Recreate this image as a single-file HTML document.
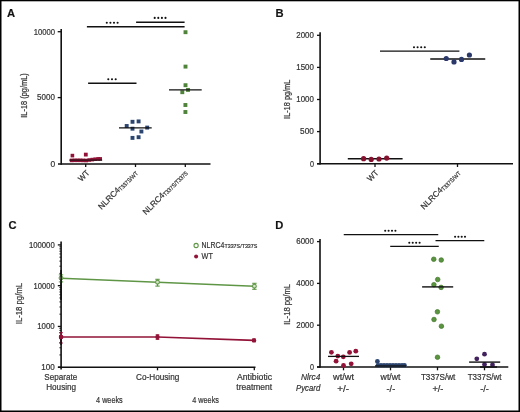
<!DOCTYPE html>
<html><head><meta charset="utf-8"><style>
html,body{margin:0;padding:0;background:#fff;}
body{width:520px;height:412px;overflow:hidden;}
svg{display:block;will-change:transform;font-family:"Liberation Sans", sans-serif;}
text{stroke:#333;stroke-width:0.2px;}
</style></head><body>
<svg width="520" height="412" viewBox="0 0 520 412">
<rect x="0" y="0" width="520" height="412" fill="#fff"/>
<text x="7.0" y="16.6" font-size="11.2" text-anchor="start" fill="#111" font-weight="bold">A</text>
<line x1="61.2" y1="29" x2="61.2" y2="164.7" stroke="#111111" stroke-width="1.6"/>
<line x1="58" y1="164" x2="210.5" y2="164" stroke="#111111" stroke-width="1.5"/>
<line x1="57.7" y1="31.7" x2="61.2" y2="31.7" stroke="#111111" stroke-width="1.3"/>
<text x="55.099999999999994" y="34.5" font-size="8.2" text-anchor="end" fill="#333333" textLength="21.4" lengthAdjust="spacingAndGlyphs" >10000</text>
<line x1="57.7" y1="97.6" x2="61.2" y2="97.6" stroke="#111111" stroke-width="1.3"/>
<text x="54.9" y="100.4" font-size="8.2" text-anchor="end" fill="#333333" textLength="17.8" lengthAdjust="spacingAndGlyphs" >5000</text>
<text x="55.099999999999994" y="166.7" font-size="8.2" text-anchor="end" fill="#333333" textLength="4.7" lengthAdjust="spacingAndGlyphs" >0</text>
<line x1="85.7" y1="164" x2="85.7" y2="167" stroke="#111111" stroke-width="1.3"/>
<line x1="135.5" y1="164" x2="135.5" y2="167" stroke="#111111" stroke-width="1.3"/>
<line x1="185.3" y1="164" x2="185.3" y2="167" stroke="#111111" stroke-width="1.3"/>
<text transform="translate(26.6,95.5) rotate(-90)" font-size="8.6" text-anchor="middle" fill="#333333" textLength="44.40000000000001" lengthAdjust="spacingAndGlyphs">IL-18 (pg/mL)</text>
<text transform="translate(90,173.5) rotate(-45)" font-size="8.3" text-anchor="end" fill="#333333"><tspan textLength="12" lengthAdjust="spacingAndGlyphs">WT</tspan></text>
<text transform="translate(138.1,173.3) rotate(-45)" font-size="8.3" text-anchor="end" fill="#333333"><tspan>NLRC4</tspan><tspan font-size="5.9" dy="0.6" textLength="24.7" lengthAdjust="spacingAndGlyphs">T337S/WT</tspan></text>
<text transform="translate(187.9,173.3) rotate(-45)" font-size="8.3" text-anchor="end" fill="#333333"><tspan>NLRC4</tspan><tspan font-size="5.9" dy="0.6" textLength="32.2" lengthAdjust="spacingAndGlyphs">T337S/T337S</tspan></text>
<rect x="69.80" y="158.60" width="3.6" height="3.6" fill="#921337"/>
<rect x="72.80" y="158.50" width="3.6" height="3.6" fill="#921337"/>
<rect x="75.70" y="158.50" width="3.6" height="3.6" fill="#921337"/>
<rect x="78.60" y="158.50" width="3.6" height="3.6" fill="#921337"/>
<rect x="81.50" y="158.60" width="3.6" height="3.6" fill="#921337"/>
<rect x="84.50" y="158.70" width="3.6" height="3.6" fill="#921337"/>
<rect x="87.50" y="158.20" width="3.6" height="3.6" fill="#921337"/>
<rect x="90.50" y="157.80" width="3.6" height="3.6" fill="#921337"/>
<rect x="93.50" y="157.40" width="3.6" height="3.6" fill="#921337"/>
<rect x="96.40" y="157.10" width="3.6" height="3.6" fill="#921337"/>
<rect x="98.40" y="157.10" width="3.6" height="3.6" fill="#921337"/>
<line x1="69.2" y1="160.1" x2="102.2" y2="160.1" stroke="#111111" stroke-width="1.0"/>
<rect x="70.60" y="153.80" width="3.6" height="3.6" fill="#921337"/>
<rect x="83.90" y="152.70" width="3.8" height="3.8" fill="#921337"/>
<rect x="130.55" y="119.85" width="3.9" height="3.9" fill="#2c4570"/>
<rect x="136.65" y="119.45" width="3.9" height="3.9" fill="#2c4570"/>
<rect x="124.75" y="124.05" width="3.9" height="3.9" fill="#2c4570"/>
<rect x="130.55" y="126.75" width="3.9" height="3.9" fill="#2c4570"/>
<rect x="145.25" y="125.65" width="3.9" height="3.9" fill="#2c4570"/>
<rect x="139.45" y="129.55" width="3.9" height="3.9" fill="#2c4570"/>
<rect x="130.55" y="135.95" width="3.9" height="3.9" fill="#2c4570"/>
<rect x="136.65" y="135.25" width="3.9" height="3.9" fill="#2c4570"/>
<line x1="119" y1="127.9" x2="151.7" y2="127.9" stroke="#111111" stroke-width="1.3"/>
<rect x="183.55" y="30.25" width="3.9" height="3.9" fill="#4f833a"/>
<rect x="183.55" y="64.65" width="3.9" height="3.9" fill="#4f833a"/>
<rect x="183.55" y="83.25" width="3.9" height="3.9" fill="#4f833a"/>
<rect x="180.35" y="90.25" width="3.9" height="3.9" fill="#4f833a"/>
<rect x="186.05" y="87.95" width="3.9" height="3.9" fill="#4f833a"/>
<rect x="183.45" y="103.05" width="3.9" height="3.9" fill="#4f833a"/>
<rect x="183.45" y="110.05" width="3.9" height="3.9" fill="#4f833a"/>
<line x1="169" y1="89.9" x2="201.7" y2="89.9" stroke="#111111" stroke-width="1.3"/>
<line x1="86.9" y1="26.8" x2="184.6" y2="26.8" stroke="#111111" stroke-width="1.4"/>
<circle cx="106.80" cy="22.7" r="1.05" fill="#111111"/>
<circle cx="110.40" cy="22.7" r="1.05" fill="#111111"/>
<circle cx="114.00" cy="22.7" r="1.05" fill="#111111"/>
<circle cx="117.60" cy="22.7" r="1.05" fill="#111111"/>
<line x1="136.1" y1="22.2" x2="184.6" y2="22.2" stroke="#111111" stroke-width="1.4"/>
<circle cx="154.70" cy="17.9" r="1.05" fill="#111111"/>
<circle cx="158.30" cy="17.9" r="1.05" fill="#111111"/>
<circle cx="161.90" cy="17.9" r="1.05" fill="#111111"/>
<circle cx="165.50" cy="17.9" r="1.05" fill="#111111"/>
<line x1="88.1" y1="83.2" x2="136.5" y2="83.2" stroke="#111111" stroke-width="1.4"/>
<circle cx="108.30" cy="79.2" r="1.05" fill="#111111"/>
<circle cx="112.00" cy="79.2" r="1.05" fill="#111111"/>
<circle cx="115.70" cy="79.2" r="1.05" fill="#111111"/>
<text x="275.6" y="17.1" font-size="11.2" text-anchor="start" fill="#111" font-weight="bold">B</text>
<line x1="320.1" y1="32.3" x2="320.1" y2="164.5" stroke="#111111" stroke-width="1.6"/>
<line x1="317" y1="163.8" x2="513" y2="163.8" stroke="#111111" stroke-width="1.5"/>
<line x1="317" y1="35.3" x2="320.1" y2="35.3" stroke="#111111" stroke-width="1.3"/>
<text x="313.90000000000003" y="38.15" font-size="8.2" text-anchor="end" fill="#333333" textLength="17.6" lengthAdjust="spacingAndGlyphs" >2000</text>
<line x1="317" y1="67.4" x2="320.1" y2="67.4" stroke="#111111" stroke-width="1.3"/>
<text x="313.90000000000003" y="70.25" font-size="8.2" text-anchor="end" fill="#333333" textLength="17.6" lengthAdjust="spacingAndGlyphs" >1500</text>
<line x1="317" y1="99.5" x2="320.1" y2="99.5" stroke="#111111" stroke-width="1.3"/>
<text x="313.90000000000003" y="102.35" font-size="8.2" text-anchor="end" fill="#333333" textLength="17.6" lengthAdjust="spacingAndGlyphs" >1000</text>
<line x1="317" y1="131.6" x2="320.1" y2="131.6" stroke="#111111" stroke-width="1.3"/>
<text x="313.90000000000003" y="134.45" font-size="8.2" text-anchor="end" fill="#333333" textLength="13.8" lengthAdjust="spacingAndGlyphs" >500</text>
<line x1="317" y1="163.7" x2="320.1" y2="163.7" stroke="#111111" stroke-width="1.3"/>
<text x="313.90000000000003" y="166.54999999999998" font-size="8.2" text-anchor="end" fill="#333333" textLength="4.0" lengthAdjust="spacingAndGlyphs" >0</text>
<line x1="375" y1="163.8" x2="375" y2="167" stroke="#111111" stroke-width="1.3"/>
<line x1="457.5" y1="163.8" x2="457.5" y2="167" stroke="#111111" stroke-width="1.3"/>
<text transform="translate(290.4,99.3) rotate(-90)" font-size="8.6" text-anchor="middle" fill="#333333" textLength="39.199999999999996" lengthAdjust="spacingAndGlyphs">IL-18 pg/mL</text>
<text transform="translate(379,173.5) rotate(-45)" font-size="8.3" text-anchor="end" fill="#333333"><tspan textLength="12" lengthAdjust="spacingAndGlyphs">WT</tspan></text>
<text transform="translate(460.7,173.3) rotate(-45)" font-size="8.3" text-anchor="end" fill="#333333"><tspan>NLRC4</tspan><tspan font-size="5.9" dy="0.6" textLength="24.7" lengthAdjust="spacingAndGlyphs">T337S/WT</tspan></text>
<line x1="347.8" y1="158.7" x2="402.6" y2="158.7" stroke="#111111" stroke-width="1.4"/>
<circle cx="363.6" cy="158.7" r="2.6" fill="#85112f"/>
<circle cx="371.2" cy="159.4" r="2.6" fill="#85112f"/>
<circle cx="379" cy="159" r="2.6" fill="#85112f"/>
<circle cx="386.7" cy="158.1" r="2.6" fill="#85112f"/>
<line x1="430.25" y1="59" x2="485.25" y2="59" stroke="#111111" stroke-width="1.4"/>
<circle cx="446.25" cy="58.5" r="2.6" fill="#2a386a"/>
<circle cx="454" cy="61.9" r="2.6" fill="#2a386a"/>
<circle cx="461.5" cy="59.4" r="2.6" fill="#2a386a"/>
<circle cx="469.4" cy="55" r="2.6" fill="#2a386a"/>
<line x1="380" y1="51.1" x2="459.4" y2="51.1" stroke="#111111" stroke-width="1.4"/>
<circle cx="414.00" cy="47.2" r="1.05" fill="#111111"/>
<circle cx="417.60" cy="47.2" r="1.05" fill="#111111"/>
<circle cx="421.20" cy="47.2" r="1.05" fill="#111111"/>
<circle cx="424.80" cy="47.2" r="1.05" fill="#111111"/>
<text x="8.4" y="229.1" font-size="11.2" text-anchor="start" fill="#111" font-weight="bold">C</text>
<line x1="61.1" y1="241.5" x2="61.1" y2="369.6" stroke="#111111" stroke-width="1.6"/>
<line x1="58" y1="367.2" x2="255.5" y2="367.2" stroke="#111111" stroke-width="1.5"/>
<line x1="57.8" y1="244.9" x2="61" y2="244.9" stroke="#111111" stroke-width="1.3"/>
<text x="54.699999999999996" y="247.75" font-size="8.2" text-anchor="end" fill="#333333" textLength="25.8" lengthAdjust="spacingAndGlyphs" >100000</text>
<line x1="57.8" y1="285.67" x2="61" y2="285.67" stroke="#111111" stroke-width="1.3"/>
<text x="54.699999999999996" y="288.52000000000004" font-size="8.2" text-anchor="end" fill="#333333" textLength="21.1" lengthAdjust="spacingAndGlyphs" >10000</text>
<line x1="57.8" y1="326.44" x2="61" y2="326.44" stroke="#111111" stroke-width="1.3"/>
<text x="54.699999999999996" y="329.29" font-size="8.2" text-anchor="end" fill="#333333" textLength="17.5" lengthAdjust="spacingAndGlyphs" >1000</text>
<line x1="57.8" y1="367.21000000000004" x2="61" y2="367.21000000000004" stroke="#111111" stroke-width="1.3"/>
<text x="54.699999999999996" y="370.06000000000006" font-size="8.2" text-anchor="end" fill="#333333" textLength="13.5" lengthAdjust="spacingAndGlyphs" >100</text>
<line x1="59.4" y1="354.9370070767795" x2="61" y2="354.9370070767795" stroke="#111111" stroke-width="0.9"/>
<line x1="59.4" y1="347.75776644507937" x2="61" y2="347.75776644507937" stroke="#111111" stroke-width="0.9"/>
<line x1="59.4" y1="342.664014153559" x2="61" y2="342.664014153559" stroke="#111111" stroke-width="0.9"/>
<line x1="59.4" y1="338.71299292322055" x2="61" y2="338.71299292322055" stroke="#111111" stroke-width="0.9"/>
<line x1="59.4" y1="335.48477352185887" x2="61" y2="335.48477352185887" stroke="#111111" stroke-width="0.9"/>
<line x1="59.4" y1="332.75535290861876" x2="61" y2="332.75535290861876" stroke="#111111" stroke-width="0.9"/>
<line x1="59.4" y1="330.3910212303385" x2="61" y2="330.3910212303385" stroke="#111111" stroke-width="0.9"/>
<line x1="59.4" y1="328.30553289015876" x2="61" y2="328.30553289015876" stroke="#111111" stroke-width="0.9"/>
<line x1="59.4" y1="314.1670070767795" x2="61" y2="314.1670070767795" stroke="#111111" stroke-width="0.9"/>
<line x1="59.4" y1="306.9877664450794" x2="61" y2="306.9877664450794" stroke="#111111" stroke-width="0.9"/>
<line x1="59.4" y1="301.894014153559" x2="61" y2="301.894014153559" stroke="#111111" stroke-width="0.9"/>
<line x1="59.4" y1="297.9429929232205" x2="61" y2="297.9429929232205" stroke="#111111" stroke-width="0.9"/>
<line x1="59.4" y1="294.71477352185883" x2="61" y2="294.71477352185883" stroke="#111111" stroke-width="0.9"/>
<line x1="59.4" y1="291.9853529086188" x2="61" y2="291.9853529086188" stroke="#111111" stroke-width="0.9"/>
<line x1="59.4" y1="289.62102123033844" x2="61" y2="289.62102123033844" stroke="#111111" stroke-width="0.9"/>
<line x1="59.4" y1="287.5355328901587" x2="61" y2="287.5355328901587" stroke="#111111" stroke-width="0.9"/>
<line x1="59.4" y1="273.3970070767795" x2="61" y2="273.3970070767795" stroke="#111111" stroke-width="0.9"/>
<line x1="59.4" y1="266.21776644507935" x2="61" y2="266.21776644507935" stroke="#111111" stroke-width="0.9"/>
<line x1="59.4" y1="261.12401415355896" x2="61" y2="261.12401415355896" stroke="#111111" stroke-width="0.9"/>
<line x1="59.4" y1="257.17299292322053" x2="61" y2="257.17299292322053" stroke="#111111" stroke-width="0.9"/>
<line x1="59.4" y1="253.94477352185885" x2="61" y2="253.94477352185885" stroke="#111111" stroke-width="0.9"/>
<line x1="59.4" y1="251.21535290861874" x2="61" y2="251.21535290861874" stroke="#111111" stroke-width="0.9"/>
<line x1="59.4" y1="248.85102123033846" x2="61" y2="248.85102123033846" stroke="#111111" stroke-width="0.9"/>
<line x1="59.4" y1="246.7655328901587" x2="61" y2="246.7655328901587" stroke="#111111" stroke-width="0.9"/>
<line x1="157.5" y1="367.2" x2="157.5" y2="370.3" stroke="#111111" stroke-width="1.3"/>
<line x1="254.3" y1="367.2" x2="254.3" y2="370.3" stroke="#111111" stroke-width="1.3"/>
<text transform="translate(21.8,303.6) rotate(-90)" font-size="8.6" text-anchor="middle" fill="#333333" textLength="41.19999999999997" lengthAdjust="spacingAndGlyphs">IL-18 pg/mL</text>
<line x1="61" y1="278.2" x2="157.5" y2="282.2" stroke="#5f9646" stroke-width="1.5"/>
<line x1="157.5" y1="282.2" x2="254.4" y2="286.2" stroke="#5f9646" stroke-width="1.5"/>
<line x1="61" y1="274.9" x2="61" y2="281.9" stroke="#5f9646" stroke-width="1.2"/>
<line x1="58.8" y1="274.9" x2="63.2" y2="274.9" stroke="#5f9646" stroke-width="1.1"/>
<line x1="58.8" y1="281.9" x2="63.2" y2="281.9" stroke="#5f9646" stroke-width="1.1"/>
<circle cx="61" cy="278.1" r="1.9" fill="#d5e6c8" stroke="#5f9646" stroke-width="1.1"/>
<line x1="157.5" y1="279.3" x2="157.5" y2="286.1" stroke="#5f9646" stroke-width="1.2"/>
<line x1="155.3" y1="279.3" x2="159.7" y2="279.3" stroke="#5f9646" stroke-width="1.1"/>
<line x1="155.3" y1="286.1" x2="159.7" y2="286.1" stroke="#5f9646" stroke-width="1.1"/>
<circle cx="157.5" cy="282.2" r="1.9" fill="#d5e6c8" stroke="#5f9646" stroke-width="1.1"/>
<line x1="254.4" y1="283.3" x2="254.4" y2="289.3" stroke="#5f9646" stroke-width="1.2"/>
<line x1="252.20000000000002" y1="283.3" x2="256.6" y2="283.3" stroke="#5f9646" stroke-width="1.1"/>
<line x1="252.20000000000002" y1="289.3" x2="256.6" y2="289.3" stroke="#5f9646" stroke-width="1.1"/>
<circle cx="254.4" cy="286.2" r="1.9" fill="#d5e6c8" stroke="#5f9646" stroke-width="1.1"/>
<line x1="61" y1="337" x2="157.5" y2="337" stroke="#921337" stroke-width="1.6"/>
<line x1="157.5" y1="337" x2="254" y2="340.4" stroke="#921337" stroke-width="1.6"/>
<line x1="61" y1="332.7" x2="61" y2="343" stroke="#921337" stroke-width="1.2"/>
<line x1="59.2" y1="332.7" x2="62.8" y2="332.7" stroke="#921337" stroke-width="1.1"/>
<line x1="59.2" y1="343" x2="62.8" y2="343" stroke="#921337" stroke-width="1.1"/>
<circle cx="61" cy="337" r="2.2" fill="#921337"/>
<line x1="157.5" y1="334.8" x2="157.5" y2="339.3" stroke="#921337" stroke-width="1.2"/>
<line x1="155.7" y1="334.8" x2="159.3" y2="334.8" stroke="#921337" stroke-width="1.1"/>
<line x1="155.7" y1="339.3" x2="159.3" y2="339.3" stroke="#921337" stroke-width="1.1"/>
<circle cx="157.5" cy="337" r="2.2" fill="#921337"/>
<line x1="254" y1="339" x2="254" y2="341.6" stroke="#921337" stroke-width="1.2"/>
<line x1="252.2" y1="339" x2="255.8" y2="339" stroke="#921337" stroke-width="1.1"/>
<line x1="252.2" y1="341.6" x2="255.8" y2="341.6" stroke="#921337" stroke-width="1.1"/>
<circle cx="254" cy="340.4" r="2.2" fill="#921337"/>
<line x1="61.1" y1="270" x2="61.1" y2="300" stroke="#111111" stroke-width="1.6"/>
<line x1="61.1" y1="336" x2="61.1" y2="345" stroke="#111111" stroke-width="1.6"/>
<circle cx="61.1" cy="337" r="2.2" fill="#921337"/>
<circle cx="196.1" cy="245.5" r="2.1" fill="#fff" stroke="#5f9646" stroke-width="1.1"/>
<circle cx="196.1" cy="256.5" r="2" fill="#921337"/>
<text x="201.6" y="248.3" font-size="8.4" fill="#333333"><tspan textLength="22.8" lengthAdjust="spacingAndGlyphs">NLRC4</tspan><tspan font-size="5.8" textLength="33" lengthAdjust="spacingAndGlyphs">T337S/T337S</tspan></text>
<text x="201.6" y="259.4" font-size="8.4" fill="#333333" textLength="11.3" lengthAdjust="spacingAndGlyphs">WT</text>
<text x="60.75" y="379.9" font-size="8.6" text-anchor="middle" fill="#333333" textLength="32.9" lengthAdjust="spacingAndGlyphs" >Separate</text>
<text x="61.15" y="389.9" font-size="8.6" text-anchor="middle" fill="#333333" textLength="29.9" lengthAdjust="spacingAndGlyphs" >Housing</text>
<text x="157.65" y="379.9" font-size="8.6" text-anchor="middle" fill="#333333" textLength="43.3" lengthAdjust="spacingAndGlyphs" >Co-Housing</text>
<text x="254.5" y="379.9" font-size="8.6" text-anchor="middle" fill="#333333" textLength="35.2" lengthAdjust="spacingAndGlyphs" >Antibiotic</text>
<text x="254.2" y="389.9" font-size="8.6" text-anchor="middle" fill="#333333" textLength="35.8" lengthAdjust="spacingAndGlyphs" >treatment</text>
<text x="109.4" y="403.2" font-size="9.2" text-anchor="middle" fill="#333333" textLength="26.6" lengthAdjust="spacingAndGlyphs" >4 weeks</text>
<text x="205.6" y="403.2" font-size="9.2" text-anchor="middle" fill="#333333" textLength="26.6" lengthAdjust="spacingAndGlyphs" >4 weeks</text>
<text x="275.2" y="229.1" font-size="11.2" text-anchor="start" fill="#111" font-weight="bold">D</text>
<line x1="320" y1="238.9" x2="320" y2="367.7" stroke="#111111" stroke-width="1.6"/>
<line x1="317" y1="367" x2="508.3" y2="367" stroke="#111111" stroke-width="1.5"/>
<line x1="317" y1="241.6" x2="320" y2="241.6" stroke="#111111" stroke-width="1.3"/>
<text x="313.90000000000003" y="244.45" font-size="8.2" text-anchor="end" fill="#333333" textLength="17.6" lengthAdjust="spacingAndGlyphs" >6000</text>
<line x1="317" y1="283.4" x2="320" y2="283.4" stroke="#111111" stroke-width="1.3"/>
<text x="313.90000000000003" y="286.25" font-size="8.2" text-anchor="end" fill="#333333" textLength="17.6" lengthAdjust="spacingAndGlyphs" >4000</text>
<line x1="317" y1="325.2" x2="320" y2="325.2" stroke="#111111" stroke-width="1.3"/>
<text x="313.90000000000003" y="328.05" font-size="8.2" text-anchor="end" fill="#333333" textLength="17.6" lengthAdjust="spacingAndGlyphs" >2000</text>
<line x1="317" y1="367" x2="320" y2="367" stroke="#111111" stroke-width="1.3"/>
<text x="313.90000000000003" y="369.85" font-size="8.2" text-anchor="end" fill="#333333" textLength="4.0" lengthAdjust="spacingAndGlyphs" >0</text>
<line x1="343.5" y1="367" x2="343.5" y2="370.3" stroke="#111111" stroke-width="1.3"/>
<line x1="390.5" y1="367" x2="390.5" y2="370.3" stroke="#111111" stroke-width="1.3"/>
<line x1="437.5" y1="367" x2="437.5" y2="370.3" stroke="#111111" stroke-width="1.3"/>
<line x1="484.5" y1="367" x2="484.5" y2="370.3" stroke="#111111" stroke-width="1.3"/>
<text transform="translate(289.8,304.4) rotate(-90)" font-size="8.6" text-anchor="middle" fill="#333333" textLength="40.79999999999999" lengthAdjust="spacingAndGlyphs">IL-18 pg/mL</text>
<line x1="343.75" y1="234.6" x2="438.25" y2="234.6" stroke="#111111" stroke-width="1.4"/>
<circle cx="385.20" cy="230.7" r="1.05" fill="#111111"/>
<circle cx="388.60" cy="230.7" r="1.05" fill="#111111"/>
<circle cx="392.00" cy="230.7" r="1.05" fill="#111111"/>
<circle cx="395.40" cy="230.7" r="1.05" fill="#111111"/>
<line x1="390.2" y1="246.4" x2="438.75" y2="246.4" stroke="#111111" stroke-width="1.4"/>
<circle cx="409.30" cy="242.7" r="1.05" fill="#111111"/>
<circle cx="412.73" cy="242.7" r="1.05" fill="#111111"/>
<circle cx="416.17" cy="242.7" r="1.05" fill="#111111"/>
<circle cx="419.60" cy="242.7" r="1.05" fill="#111111"/>
<line x1="435.5" y1="240.6" x2="484.3" y2="240.6" stroke="#111111" stroke-width="1.4"/>
<circle cx="455.10" cy="236.8" r="1.05" fill="#111111"/>
<circle cx="458.40" cy="236.8" r="1.05" fill="#111111"/>
<circle cx="461.70" cy="236.8" r="1.05" fill="#111111"/>
<circle cx="465.00" cy="236.8" r="1.05" fill="#111111"/>
<circle cx="331.4" cy="352.3" r="2.4" fill="#921337"/>
<circle cx="337.8" cy="356.1" r="2.4" fill="#921337"/>
<circle cx="343.3" cy="356.8" r="2.4" fill="#921337"/>
<circle cx="349.6" cy="352.4" r="2.4" fill="#921337"/>
<circle cx="355.8" cy="351.2" r="2.4" fill="#921337"/>
<circle cx="336.1" cy="361.2" r="2.4" fill="#921337"/>
<circle cx="351.2" cy="363.8" r="2.4" fill="#921337"/>
<circle cx="343.5" cy="365.5" r="2.4" fill="#921337"/>
<line x1="328" y1="356.4" x2="359" y2="356.4" stroke="#111111" stroke-width="1.3"/>
<circle cx="377.4" cy="361.4" r="2.4" fill="#2c4570"/>
<circle cx="378" cy="365.2" r="2.3" fill="#2c4570"/>
<circle cx="381" cy="365.2" r="2.3" fill="#2c4570"/>
<circle cx="384" cy="365.2" r="2.3" fill="#2c4570"/>
<circle cx="387" cy="365.2" r="2.3" fill="#2c4570"/>
<circle cx="390" cy="365.2" r="2.3" fill="#2c4570"/>
<circle cx="393" cy="365.2" r="2.3" fill="#2c4570"/>
<circle cx="396" cy="365.2" r="2.3" fill="#2c4570"/>
<circle cx="399" cy="365.2" r="2.3" fill="#2c4570"/>
<circle cx="402" cy="365.2" r="2.3" fill="#2c4570"/>
<circle cx="404.5" cy="365.2" r="2.3" fill="#2c4570"/>
<line x1="375" y1="366" x2="406" y2="366" stroke="#111111" stroke-width="1.3"/>
<circle cx="433.75" cy="259.25" r="2.3" fill="#5b9440" stroke="#417529" stroke-width="0.7"/>
<circle cx="441.25" cy="260" r="2.3" fill="#5b9440" stroke="#417529" stroke-width="0.7"/>
<circle cx="437.7" cy="279.5" r="2.3" fill="#5b9440" stroke="#417529" stroke-width="0.7"/>
<circle cx="433.9" cy="284.7" r="2.3" fill="#5b9440" stroke="#417529" stroke-width="0.7"/>
<circle cx="441.1" cy="287.4" r="2.3" fill="#5b9440" stroke="#417529" stroke-width="0.7"/>
<circle cx="437.4" cy="311.8" r="2.3" fill="#5b9440" stroke="#417529" stroke-width="0.7"/>
<circle cx="434" cy="319.5" r="2.3" fill="#5b9440" stroke="#417529" stroke-width="0.7"/>
<circle cx="441.4" cy="326.2" r="2.3" fill="#5b9440" stroke="#417529" stroke-width="0.7"/>
<circle cx="437.5" cy="357.25" r="2.3" fill="#5b9440" stroke="#417529" stroke-width="0.7"/>
<line x1="422.1" y1="286.9" x2="453.2" y2="286.9" stroke="#111111" stroke-width="1.4"/>
<circle cx="476.8" cy="358.8" r="2.4" fill="#42225e"/>
<circle cx="484.5" cy="354.2" r="2.4" fill="#42225e"/>
<circle cx="484.5" cy="364.5" r="2.4" fill="#42225e"/>
<circle cx="492.5" cy="364.9" r="2.4" fill="#42225e"/>
<line x1="469.1" y1="362.1" x2="500.2" y2="362.1" stroke="#111111" stroke-width="1.4"/>
<line x1="480" y1="367" x2="497" y2="367" stroke="#111111" stroke-width="1.5"/>
<text x="320.3" y="379.8" font-size="8.6" text-anchor="end" fill="#333333" textLength="19.4" lengthAdjust="spacingAndGlyphs" font-style="italic">Nlrc4</text>
<text x="320.3" y="391.2" font-size="8.6" text-anchor="end" fill="#333333" textLength="24.3" lengthAdjust="spacingAndGlyphs" font-style="italic">Pycard</text>
<text x="343.5" y="379.9" font-size="8.2" text-anchor="middle" fill="#333333" textLength="21.0" lengthAdjust="spacingAndGlyphs" >wt/wt</text>
<text x="343.15" y="391.9" font-size="8.2" text-anchor="middle" fill="#333333" textLength="11.7" lengthAdjust="spacingAndGlyphs" >+/-</text>
<text x="390.54999999999995" y="379.9" font-size="8.2" text-anchor="middle" fill="#333333" textLength="19.9" lengthAdjust="spacingAndGlyphs" >wt/wt</text>
<text x="390.9" y="391.9" font-size="8.2" text-anchor="middle" fill="#333333" textLength="8.6" lengthAdjust="spacingAndGlyphs" >-/-</text>
<text x="438.1" y="379.9" font-size="8.2" text-anchor="middle" fill="#333333" textLength="34.4" lengthAdjust="spacingAndGlyphs" >T337S/wt</text>
<text x="437.9" y="391.9" font-size="8.2" text-anchor="middle" fill="#333333" textLength="11.0" lengthAdjust="spacingAndGlyphs" >+/-</text>
<text x="484.65" y="379.9" font-size="8.2" text-anchor="middle" fill="#333333" textLength="33.9" lengthAdjust="spacingAndGlyphs" >T337S/wt</text>
<text x="484.6" y="391.9" font-size="8.2" text-anchor="middle" fill="#333333" textLength="8.6" lengthAdjust="spacingAndGlyphs" >-/-</text>
<rect x="0" y="0" width="1.5" height="412" fill="#000"/>
<rect x="0" y="0" width="520" height="1.3" fill="#000"/>
<rect x="518.5" y="0" width="1.5" height="412" fill="#000"/>
<rect x="0" y="410.5" width="520" height="1.5" fill="#000"/>
</svg></body></html>
